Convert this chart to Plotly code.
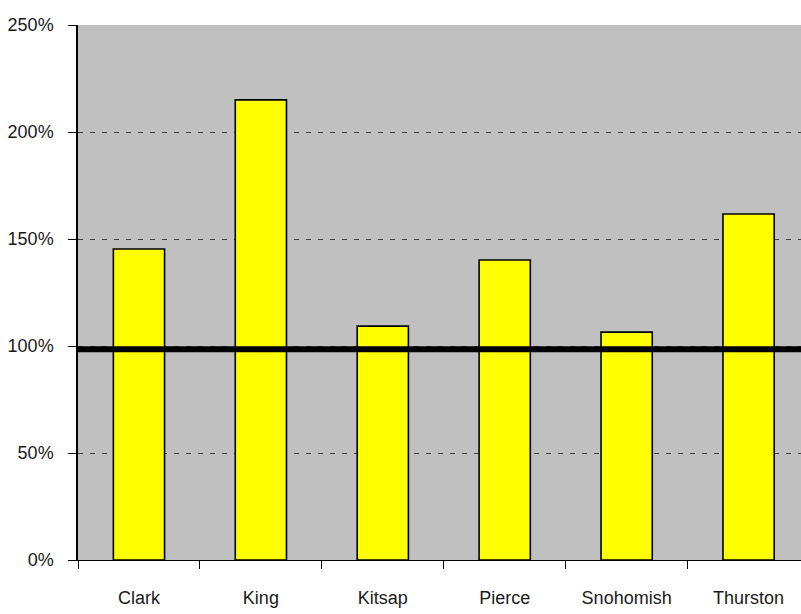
import plotly.graph_objects as go

counties = ["Clark", "King", "Kitsap", "Pierce", "Snohomish", "Thurston"]
ratios = [145.3, 215.0, 109.3, 140.2, 106.5, 161.7]
reference_level = 98.5
y_ticks = [0, 50, 100, 150, 200, 250]
y_tick_labels = ["0%", "50%", "100%", "150%", "200%", "250%"]

font_family = "Liberation Sans Narrow, Arial Narrow, Liberation Sans, Arial, sans-serif"

fig = go.Figure()
fig.add_trace(go.Bar(
    x=counties, y=ratios,
    marker=dict(color="#FFFF00", line=dict(color="#000000", width=1.6)),
    width=0.42,
))

fig.add_shape(
    type="line", xref="paper", yref="y",
    x0=0, x1=1, y0=reference_level, y1=reference_level,
    line=dict(color="#000000", width=6), layer="above",
)

fig.update_layout(
    width=801, height=614,
    margin=dict(l=78, r=0, t=25, b=54),
    paper_bgcolor="#FFFFFF",
    plot_bgcolor="#C0C0C0",
    showlegend=False,
    font=dict(family=font_family, size=18, color="#1a1a1a"),
)
fig.update_xaxes(
    type="category",
    range=[-0.5, 5.43],
    showline=True, linecolor="#000000", linewidth=1,
    ticks="outside", tickson="boundaries", ticklen=8, tickcolor="#000000",
    showgrid=False,
    ticklabelstandoff=21,
    tickfont=dict(family=font_family, size=18, color="#1a1a1a"),
)
fig.update_yaxes(
    range=[0, 250],
    tickvals=y_ticks, ticktext=y_tick_labels,
    showline=True, linecolor="#000000", linewidth=1.5,
    ticks="outside", ticklen=8, tickcolor="#000000",
    ticklabelstandoff=11,
    showgrid=True, gridcolor="#404040", gridwidth=1.2, griddash="5px,7px",
    zeroline=False,
    tickfont=dict(family=font_family, size=18, color="#1a1a1a"),
)

fig.write_html("out.html")
